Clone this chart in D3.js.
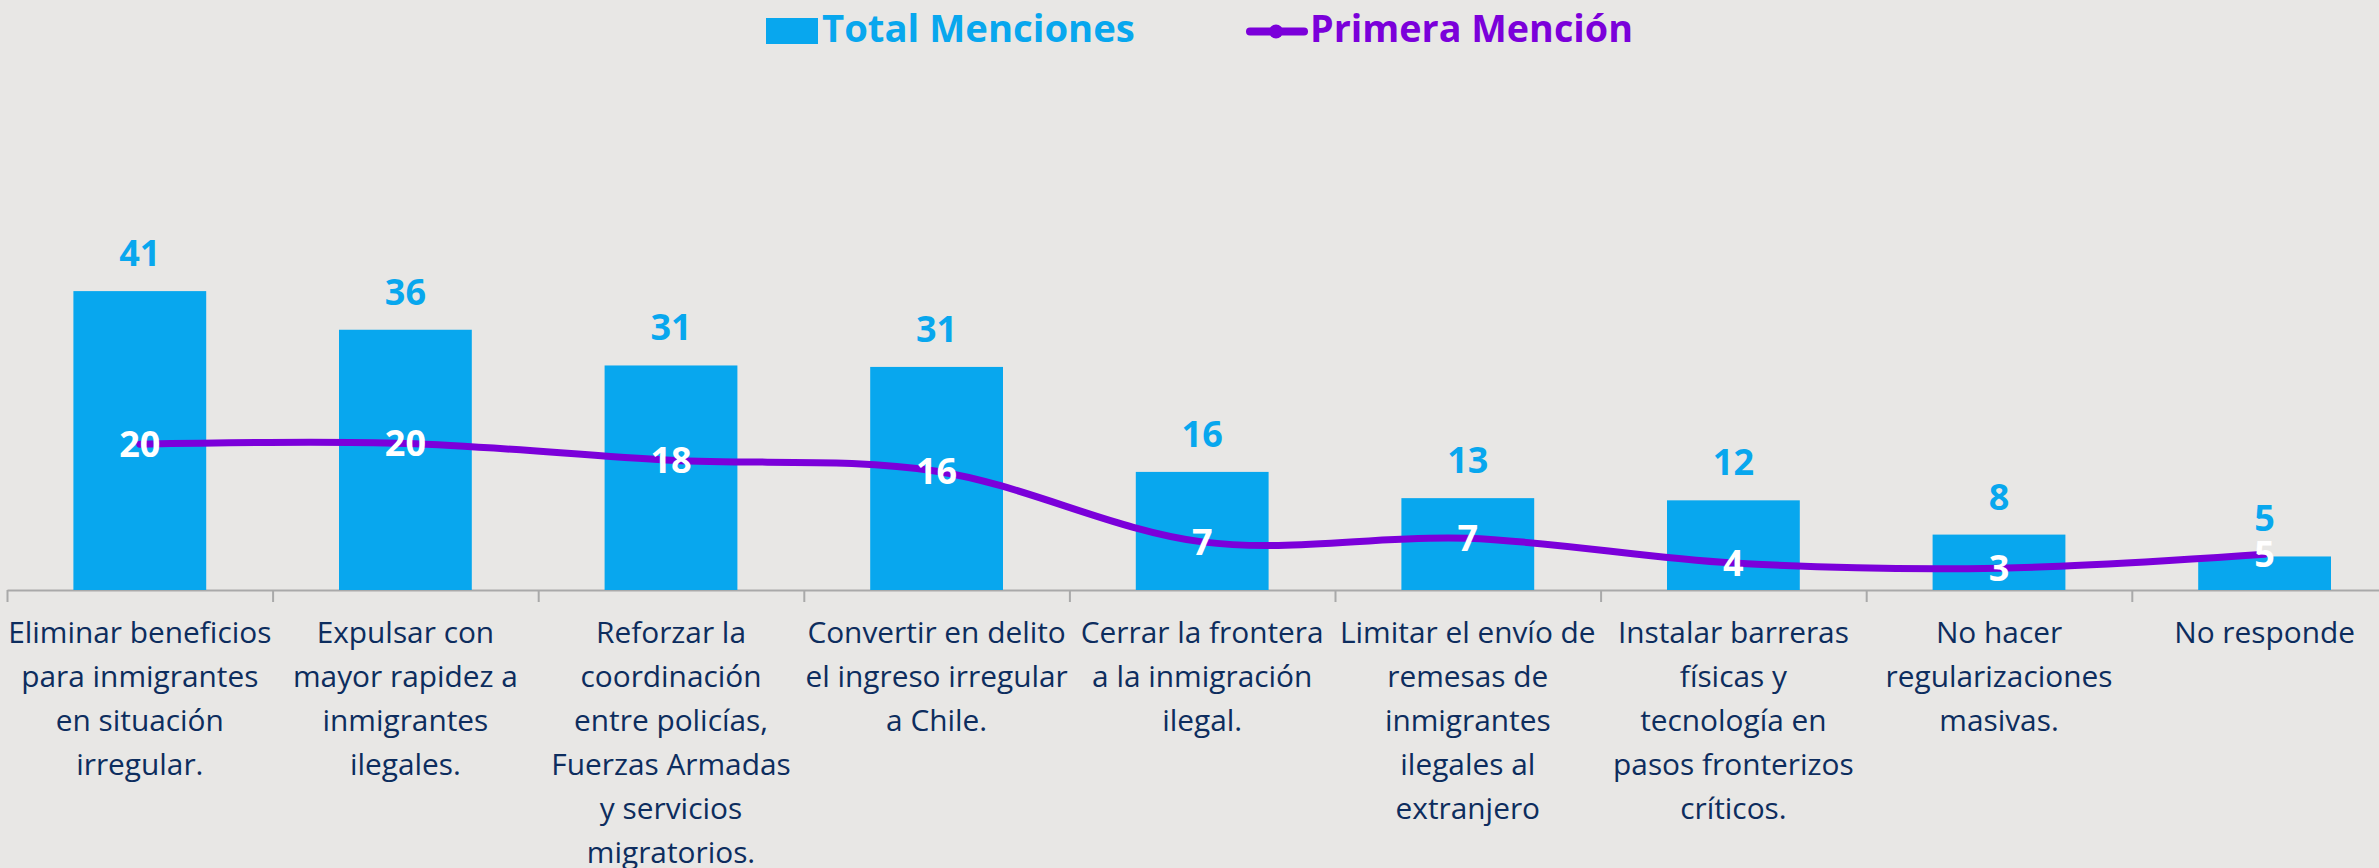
<!DOCTYPE html>
<html>
<head>
<meta charset="utf-8">
<script src="https://cdn.jsdelivr.net/npm/d3@7"></script>
<style>
  html, body { margin: 0; padding: 0; background: #E8E7E5; }
  svg { display: block; }
</style>
</head>
<body>
<svg id="chart" width="2379" height="868"></svg>
<script>
// ---- DATA ----
const categories = [
  "Eliminar beneficios\npara inmigrantes\nen situación\nirregular.",
  "Expulsar con\nmayor rapidez a\ninmigrantes\nilegales.",
  "Reforzar la\ncoordinación\nentre policías,\nFuerzas Armadas\ny servicios\nmigratorios.",
  "Convertir en delito\nel ingreso irregular\na Chile.",
  "Cerrar la frontera\na la inmigración\nilegal.",
  "Limitar el envío de\nremesas de\ninmigrantes\nilegales al\nextranjero",
  "Instalar barreras\nfísicas y\ntecnología en\npasos fronterizos\ncríticos.",
  "No hacer\nregularizaciones\nmasivas.",
  "No responde"
];
const totalMenciones = [41.0, 35.7, 30.8, 30.6, 16.2, 12.6, 12.3, 7.6, 4.6];
const primeraMencion = [20.0, 20.1, 17.8, 16.3, 6.6, 7.1, 3.7, 3.0, 4.9];
const seriesNames = ["Total Menciones", "Primera Mención"];

// ---- STYLE ----
const barColor = "#08A7EE";
const lineColor = "#7B00DA";
const textColor = "#0D2D5E";
const axisColor = "#A9A9A9";
const fontFamily = "'Open Sans', 'Noto Sans', sans-serif";

const svg = d3.select("#chart");
const W = 2379, H = 868;
svg.append("rect").attr("width", W).attr("height", H).attr("fill", "#E8E7E5");

const x0 = 7, step = 265.6;
const x = d3.scaleBand()
  .domain(d3.range(categories.length))
  .range([x0, x0 + step * categories.length])
  .paddingInner(0.5)
  .paddingOuter(0.25);

const baseY = 590;
const pxPerUnit = 7.29;
const y = d3.scaleLinear().domain([0, 50]).range([baseY, baseY - 50 * pxPerUnit]);

// Axis with ticks at category boundaries
const xb = d3.scaleLinear().domain([0, categories.length]).range(x.range());
const axisG = svg.append("g").attr("transform", `translate(0,${baseY})`)
  .call(d3.axisBottom(xb).tickValues(d3.range(0, categories.length + 1)).tickFormat("").tickSize(12).tickSizeOuter(0));
axisG.select(".domain").attr("stroke", axisColor).attr("stroke-width", 2);
axisG.selectAll(".tick line").attr("stroke", axisColor).attr("stroke-width", 2);

// Bars
svg.append("g").selectAll("rect").data(totalMenciones).join("rect")
  .attr("x", (d, i) => x(i))
  .attr("width", x.bandwidth())
  .attr("y", d => y(d))
  .attr("height", d => y(0) - y(d))
  .attr("fill", barColor);

// Bar labels
svg.append("g").selectAll("text").data(totalMenciones).join("text")
  .attr("x", (d, i) => x(i) + x.bandwidth() / 2)
  .attr("y", d => y(d) - 25)
  .attr("text-anchor", "middle")
  .attr("font-family", fontFamily)
  .attr("font-weight", 700)
  .attr("font-size", 36)
  .attr("fill", barColor)
  .text(d => Math.round(d));

// Line
const line = d3.line()
  .x((d, i) => x(i) + x.bandwidth() / 2)
  .y(d => y(d))
  .curve(d3.curveCardinal.tension(0));
svg.append("path").datum(primeraMencion)
  .attr("d", line)
  .attr("fill", "none")
  .attr("stroke", lineColor)
  .attr("stroke-width", 7)
  .attr("stroke-linecap", "round");

// Line labels
svg.append("g").selectAll("text").data(primeraMencion).join("text")
  .attr("x", (d, i) => x(i) + x.bandwidth() / 2)
  .attr("y", d => y(d) + 13)
  .attr("text-anchor", "middle")
  .attr("font-family", fontFamily)
  .attr("font-weight", 700)
  .attr("font-size", 36)
  .attr("fill", "#FFFFFF")
  .text(d => Math.round(d));

// Category labels
const refWidth = 243; // measured width of "Cerrar la frontera"
const probe = svg.append("text").attr("font-family", fontFamily).attr("font-size", 29).text("Cerrar la frontera");
const probeW = probe.node().getComputedTextLength();
probe.remove();
const catFont = 29 * refWidth / probeW;

const catG = svg.append("g");
categories.forEach((c, i) => {
  const t = catG.append("text")
    .attr("x", x(i) + x.bandwidth() / 2)
    .attr("y", 643)
    .attr("text-anchor", "middle")
    .attr("font-family", fontFamily)
    .attr("font-size", catFont)
    .attr("fill", textColor);
  c.split("\n").forEach((ln, j) => {
    t.append("tspan").attr("x", x(i) + x.bandwidth() / 2).attr("dy", j === 0 ? 0 : 44).text(ln);
  });
});

// Legend
const leg = svg.append("g");
leg.append("rect").attr("x", 766).attr("y", 18).attr("width", 52).attr("height", 26).attr("fill", barColor);
const t1 = leg.append("text").attr("x", 822).attr("y", 42)
  .attr("font-family", fontFamily).attr("font-weight", 700).attr("font-size", 38)
  .attr("fill", barColor).text(seriesNames[0]);
const w1 = t1.node().getComputedTextLength();
t1.attr("font-size", 38 * 313 / w1);

leg.append("line").attr("x1", 1250).attr("x2", 1304).attr("y1", 31.5).attr("y2", 31.5)
  .attr("stroke", lineColor).attr("stroke-width", 8).attr("stroke-linecap", "round");
leg.append("circle").attr("cx", 1276).attr("cy", 31.5).attr("r", 7).attr("fill", lineColor);
const t2 = leg.append("text").attr("x", 1310).attr("y", 42)
  .attr("font-family", fontFamily).attr("font-weight", 700).attr("font-size", 38)
  .attr("fill", lineColor).text(seriesNames[1]);
const w2 = t2.node().getComputedTextLength();
t2.attr("font-size", 38 * 323 / w2);
</script>
</body>
</html>
